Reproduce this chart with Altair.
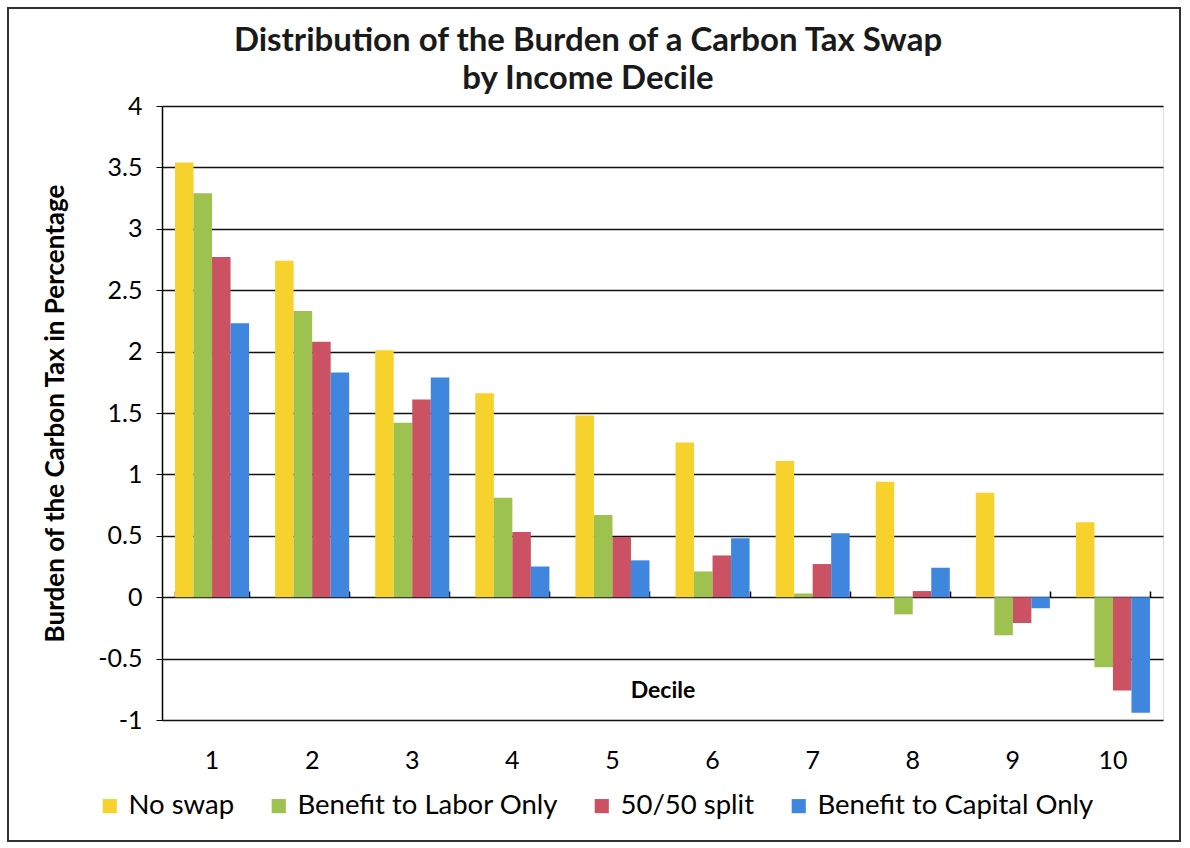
import altair as alt
import pandas as pd

deciles = ["1", "2", "3", "4", "5", "6", "7", "8", "9", "10"]
series = ["No swap", "Benefit to Labor Only", "50/50 split", "Benefit to Capital Only"]
no_swap = [3.54, 2.74, 2.01, 1.66, 1.48, 1.26, 1.11, 0.94, 0.85, 0.61]
labor_only = [3.29, 2.33, 1.42, 0.81, 0.67, 0.21, 0.03, -0.14, -0.31, -0.57]
split_5050 = [2.77, 2.08, 1.61, 0.53, 0.49, 0.34, 0.27, 0.05, -0.21, -0.76]
capital_only = [2.23, 1.83, 1.79, 0.25, 0.30, 0.48, 0.52, 0.24, -0.09, -0.94]
colors = ["#F8D22C", "#9DC24F", "#CB5262", "#3F87DE"]
title_lines = ["Distribution of the Burden of a Carbon Tax Swap", "by Income Decile"]

rows = []
for s, vals in zip(series, [no_swap, labor_only, split_5050, capital_only]):
    for d, v in zip(deciles, vals):
        rows.append({"Decile": d, "Series": s, "Value": v})
df = pd.DataFrame(rows)

FONT = "Lato"

x_enc = alt.X(
    "Decile:N",
    sort=deciles,
    scale=alt.Scale(paddingInner=0.26, paddingOuter=0.13),
    axis=alt.Axis(
        title="Decile",
        titleFontSize=23,
        titleFontWeight="bold",
        titleFont=FONT,
        titleColor="black",
        titleY=-30,
        titleBaseline="middle",
        labelAngle=0,
        labelFontSize=25,
        labelFont=FONT,
        labelColor="black",
        labelPadding=28,
        domain=False,
        ticks=False,
    ),
)

bars = alt.Chart(df).mark_bar().encode(
    x=x_enc,
    xOffset=alt.XOffset("Series:N", sort=series, scale=alt.Scale(paddingInner=0)),
    y=alt.Y(
        "Value:Q",
        scale=alt.Scale(domain=[-1, 4], nice=False),
        axis=alt.Axis(
            values=[-1, -0.5, 0, 0.5, 1, 1.5, 2, 2.5, 3, 3.5, 4],
            labelExpr="'' + datum.value",
            title="Burden of the Carbon Tax in Percentage",
            titleFontSize=26,
            titleFontWeight="bold",
            titleFont=FONT,
            titleColor="black",
            titleX=-94,
            labelFontSize=25,
            labelFont=FONT,
            labelColor="black",
            labelPadding=14,
            tickSize=6,
            tickColor="black",
            domainColor="black",
            domainWidth=1.5,
            grid=True,
            gridColor="#111111",
            gridWidth=1.6,
        ),
    ),
    color=alt.Color(
        "Series:N",
        sort=series,
        scale=alt.Scale(domain=series, range=colors),
        legend=alt.Legend(
            title=None,
            orient="none",
            direction="horizontal",
            legendX=-66,
            legendY=686,
            symbolType="square",
            symbolSize=200,
            symbolStrokeWidth=0,
            labelFontSize=27.5,
            labelFont=FONT,
            labelColor="black",
            labelOffset=5,
            labelLimit=0,
            columnPadding=30,
        ),
    ),
)

zero_ticks = alt.Chart(df).mark_point(opacity=0).encode(
    x=alt.X(
        "Decile:N",
        sort=deciles,
        axis=alt.Axis(
            orient="top",
            offset=-491,
            labels=False,
            title=None,
            domain=False,
            ticks=True,
            tickBand="extent",
            tickSize=6,
            tickColor="black",
            tickWidth=1.5,
        ),
    ),
    y=alt.datum(0),
)

frame = alt.Chart(df).mark_rect(fill=None, stroke="#333333", strokeWidth=1.5).encode(
    x=alt.value(-154), x2=alt.value(1018), y=alt.value(-98), y2=alt.value(735)
)

title = alt.Chart(pd.DataFrame({"t": [title_lines]})).mark_text(
    font=FONT,
    fontSize=33,
    fontWeight="bold",
    color="#1a1a1a",
    align="center",
    baseline="middle",
    lineHeight=38,
).encode(
    text="t",
    x=alt.value(426),
    y=alt.value(-65),
)

chart = (
    alt.layer(bars, zero_ticks, frame, title)
    .resolve_axis(x="independent")
    .properties(
        width=1001,
        height=614,
        autosize=alt.AutoSizeParams(type="none"),
        padding={"left": 162, "top": 106, "right": 27, "bottom": 128},
    )
    .configure_view(stroke=None)
    .configure(background="white")
)

chart.save("out.html", embed_options={"renderer": "svg", "actions": False})
